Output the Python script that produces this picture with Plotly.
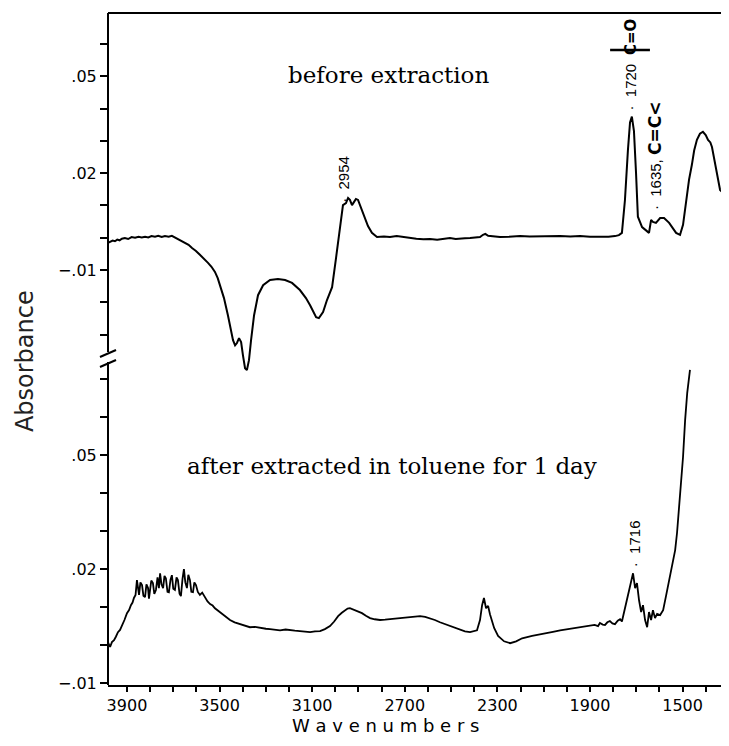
import plotly.graph_objects as go

# ---- data: before extraction (top trace) ----
before_wn = [3982, 3972, 3962, 3952, 3942, 3932, 3922, 3909, 3895, 3880, 3865, 3850, 3836, 3822, 3808,
             3794, 3779, 3765, 3750, 3736, 3720, 3706, 3693, 3680, 3665, 3649, 3634, 3619, 3602, 3585,
             3568, 3550, 3535, 3520, 3508, 3498, 3481, 3464, 3451, 3442, 3433, 3425, 3416, 3407, 3399,
             3390, 3382, 3373, 3364, 3351, 3334, 3312, 3282, 3248, 3217, 3187, 3153, 3127, 3109, 3096,
             3083, 3071, 3053, 3036, 3014, 2997, 2980, 2967, 2954, 2945, 2937, 2928, 2919, 2911, 2902,
             2889, 2872, 2859, 2842, 2820, 2790, 2764, 2735, 2700, 2677, 2650, 2620, 2591, 2560, 2530,
             2505, 2480, 2461, 2440, 2418, 2395, 2375, 2362, 2352, 2340, 2320, 2289, 2250, 2202, 2160,
             2116, 2070, 2029, 1985, 1943, 1900, 1857, 1820, 1792, 1775, 1762, 1749, 1736, 1727, 1719,
             1710, 1701, 1693, 1675, 1645, 1636, 1628, 1615, 1597, 1580, 1558, 1528, 1511, 1498, 1485,
             1472, 1460, 1450, 1438, 1425, 1412, 1400, 1390, 1380, 1373, 1362, 1351, 1338, 1325, 1308]
before_abs = [-0.0016, -0.0012, -0.0009, -0.0011, -0.0006, -0.0008, -0.0003, -0.0001, -0.0004, 0.0002,
              0.0000, 0.0003, 0.0001, 0.0003, 0.0001, 0.0005, 0.0003, 0.0006, 0.0002, 0.0005,
              0.0003, 0.0006, 0.0001, -0.0004, -0.0008, -0.0016, -0.0022, -0.0032, -0.0041, -0.0053,
              -0.0064, -0.0078, -0.0090, -0.0106, -0.0125, -0.0147, -0.0187, -0.0240, -0.0286, -0.0317,
              -0.0333, -0.0326, -0.0311, -0.0323, -0.0364, -0.0404, -0.0410, -0.0379, -0.0317, -0.0240,
              -0.0178, -0.0147, -0.0131, -0.0128, -0.0131, -0.0140, -0.0162, -0.0187, -0.0209, -0.0230,
              -0.0246, -0.0249, -0.0230, -0.0193, -0.0153, -0.0063, 0.0030, 0.0101, 0.0107, 0.0123,
              0.0117, 0.0101, 0.0111, 0.0120, 0.0117, 0.0092, 0.0055, 0.0036, 0.0015, 0.0002,
              0.0004, 0.0002, 0.0005, 0.0001, -0.0001, -0.0003, -0.0005, -0.0004, -0.0006, -0.0004,
              -0.0001, -0.0004, -0.0004, -0.0002, -0.0001, 0.0001, 0.0002, 0.0009, 0.0012, 0.0006,
              0.0004, 0.0002, 0.0003, 0.0005, 0.0004, 0.0005, 0.0004, 0.0005, 0.0004, 0.0005,
              0.0003, 0.0002, 0.0003, 0.0005, 0.0008, 0.0015, 0.0116, 0.0272, 0.0357, 0.0375,
              0.0330, 0.0200, 0.0065, 0.0033, 0.0015, 0.0055, 0.0049, 0.0046, 0.0061, 0.0061,
              0.0046, 0.0015, 0.0009, 0.0040, 0.0110, 0.0180, 0.0225, 0.0270, 0.0303, 0.0322,
              0.0328, 0.0318, 0.0303, 0.0295, 0.0281, 0.0240, 0.0200, 0.0148, 0.0139, 0.0157]

# ---- data: after extraction in toluene (bottom trace) ----
after_wn = [3986, 3973, 3965, 3956, 3948, 3939, 3930, 3922, 3911, 3900, 3891, 3883, 3876, 3870, 3863,
            3857, 3852, 3848, 3842, 3835, 3829, 3822, 3816, 3809, 3805, 3801, 3795, 3788, 3782, 3775,
            3768, 3762, 3757, 3751, 3744, 3738, 3732, 3725, 3719, 3712, 3706, 3700, 3693, 3686, 3680,
            3673, 3667, 3660, 3654, 3648, 3641, 3635, 3628, 3622, 3615, 3609, 3602, 3594, 3585, 3575,
            3563, 3552, 3541, 3530, 3520, 3505, 3490, 3472, 3455, 3435, 3412, 3390, 3369, 3347, 3325,
            3300, 3282, 3260, 3239, 3215, 3196, 3175, 3153, 3130, 3109, 3088, 3066, 3045, 3023, 3005,
            2988, 2972, 2958, 2947, 2937, 2926, 2915, 2900, 2885, 2868, 2850, 2830, 2807, 2785, 2764,
            2742, 2721, 2700, 2677, 2655, 2634, 2612, 2591, 2570, 2548, 2527, 2505, 2483, 2461, 2440,
            2418, 2400, 2388, 2375, 2366, 2358, 2349, 2340, 2332, 2314, 2297, 2271, 2245, 2219, 2193,
            2150, 2094, 2060, 2029, 1995, 1965, 1930, 1900, 1880, 1865, 1857, 1845, 1835, 1825, 1814,
            1803, 1792, 1780, 1770, 1762, 1753, 1736, 1723, 1714, 1705, 1697, 1688, 1679, 1671, 1662,
            1653, 1645, 1636, 1628, 1619, 1610, 1597, 1584, 1571, 1562, 1554, 1545, 1532, 1524, 1511,
            1498, 1489, 1480, 1468]
after_abs = [0.0013, -0.0005, 0.0008, 0.0013, 0.0022, 0.0034, 0.0040, 0.0050, 0.0066, 0.0084,
             0.0092, 0.0105, 0.0112, 0.0124, 0.0132, 0.0171, 0.0140, 0.0132, 0.0165, 0.0158,
             0.0130, 0.0126, 0.0160, 0.0150, 0.0122, 0.0137, 0.0170, 0.0163, 0.0135, 0.0145,
             0.0178, 0.0150, 0.0189, 0.0160, 0.0150, 0.0182, 0.0176, 0.0140, 0.0139, 0.0172,
             0.0184, 0.0148, 0.0145, 0.0178, 0.0171, 0.0135, 0.0129, 0.0175, 0.0200, 0.0165,
             0.0150, 0.0185, 0.0171, 0.0140, 0.0139, 0.0165, 0.0158, 0.0140, 0.0132, 0.0138,
             0.0124, 0.0115, 0.0108, 0.0104, 0.0097, 0.0090, 0.0081, 0.0074, 0.0066, 0.0060,
             0.0055, 0.0050, 0.0047, 0.0048, 0.0045, 0.0043, 0.0042, 0.0040, 0.0039, 0.0041,
             0.0039, 0.0038, 0.0037, 0.0035, 0.0034, 0.0036, 0.0037, 0.0042, 0.0050, 0.0062,
             0.0076, 0.0085, 0.0092, 0.0096, 0.0097, 0.0094, 0.0092, 0.0088, 0.0084, 0.0077,
             0.0071, 0.0068, 0.0066, 0.0067, 0.0068, 0.0070, 0.0071, 0.0072, 0.0074, 0.0075,
             0.0076, 0.0074, 0.0071, 0.0066, 0.0060, 0.0055, 0.0050, 0.0045, 0.0039, 0.0036,
             0.0034, 0.0036, 0.0039, 0.0066, 0.0105, 0.0124, 0.0097, 0.0103, 0.0081, 0.0045,
             0.0024, 0.0010, 0.0005, 0.0010, 0.0018, 0.0024, 0.0032, 0.0035, 0.0039, 0.0042,
             0.0045, 0.0047, 0.0050, 0.0053, 0.0050, 0.0058, 0.0054, 0.0053, 0.0060, 0.0063,
             0.0057, 0.0055, 0.0064, 0.0068, 0.0062, 0.0087, 0.0131, 0.0166, 0.0189, 0.0150,
             0.0163, 0.0118, 0.0087, 0.0105, 0.0066, 0.0047, 0.0087, 0.0066, 0.0092, 0.0071,
             0.0082, 0.0079, 0.0092, 0.0131, 0.0158, 0.0184, 0.0205, 0.0250, 0.0295, 0.0389,
             0.0495, 0.0592, 0.0663, 0.0724]

# ---- tick labels ----
x_tick0 = 3900
x_major_step = 400
x_minor_step = 100
top_tickvals = [-0.03, -0.02, -0.01, 0.0, 0.01, 0.02, 0.03, 0.04, 0.05, 0.06]
top_ticktext = ["", "", "\u2212.01", "", "", ".02", "", "", ".05", ""]
bot_tickvals = [-0.01, 0.0, 0.01, 0.02, 0.03, 0.04, 0.05, 0.06, 0.07]
bot_ticktext = ["\u2212.01", "", "", ".02", "", "", ".05", "", ""]

tickfont = dict(family="DejaVu Sans", size=16, color="black")

fig = go.Figure()
fig.add_trace(go.Scatter(x=before_wn, y=before_abs, mode="lines", xaxis="x", yaxis="y2",
                         line=dict(color="black", width=2), showlegend=False, hoverinfo="skip"))
fig.add_trace(go.Scatter(x=after_wn, y=after_abs, mode="lines", xaxis="x", yaxis="y",
                         line=dict(color="black", width=1.8), showlegend=False, hoverinfo="skip"))

fig.update_layout(
    width=713, height=730,
    margin=dict(l=100, r=0, t=5, b=53),
    paper_bgcolor="white", plot_bgcolor="rgba(0,0,0,0)",
    xaxis=dict(range=[3982, 1334], tick0=x_tick0, dtick=x_major_step, ticks="outside",
               ticklen=5, tickwidth=1.5, tickcolor="black",
               minor=dict(dtick=x_minor_step, tick0=x_tick0, ticks="outside", ticklen=5,
                          tickwidth=1.5, tickcolor="black", showgrid=False),
               showline=True, linewidth=2, linecolor="black", showgrid=False, zeroline=False,
               tickfont=tickfont, anchor="y"),
    yaxis=dict(domain=[0, 0.4807], range=[-0.0105, 0.0745], tickmode="array",
               tickvals=bot_tickvals, ticktext=bot_ticktext, ticks="outside", ticklen=7,
               tickwidth=1.5, tickcolor="black", showline=False, showgrid=False,
               zeroline=False, tickfont=tickfont, anchor="x"),
    yaxis2=dict(domain=[0, 1], range=[-0.13848, 0.06957], tickmode="array",
                tickvals=top_tickvals, ticktext=top_ticktext, ticks="outside", ticklen=7,
                tickwidth=1.5, tickcolor="black", showline=False, showgrid=False,
                zeroline=False, tickfont=tickfont, anchor="x"),
)

line_k = dict(color="black", width=2)
shapes = [
    dict(type="line", xref="paper", yref="paper", x0=0, x1=0, y0=0, y1=0.4807, line=line_k),
    dict(type="line", xref="paper", yref="paper", x0=0, x1=0, y0=0.4955, y1=1, line=line_k),
    dict(type="line", xref="paper", yref="paper", x0=0, x1=1, y0=1, y1=1, line=line_k),
    dict(type="line", xref="paper", yref="paper", x0=-0.0131, x1=0.0131, y0=0.4732, y1=0.4836, line=line_k),
    dict(type="line", xref="paper", yref="paper", x0=-0.0131, x1=0.0131, y0=0.4881, y1=0.4985, line=line_k),
    # side bonds of the carbonyl carbon
    dict(type="line", xref="x", yref="y2", x0=1813, x1=1641, y0=0.0581, y1=0.0581,
         line=dict(color="black", width=2.5)),
]
fig.update_layout(shapes=shapes)

serif = dict(family="DejaVu Serif", size=23, color="black")
peak = dict(family="Liberation Sans", size=15, color="black")
nb = "\u00a0"
annotations = [
    dict(x=2772, y=0.0503, xref="x", yref="y2", text="before extraction", showarrow=False, font=serif),
    dict(x=2755, y=0.0471, xref="x", yref="y", text="after extracted in toluene for 1 day",
         showarrow=False, font=serif),
    dict(x=2963, y=0.0182, xref="x", yref="y2", text="·" + nb * 2 + "2954", textangle=-90,
         showarrow=False, font=peak),
    dict(x=1723, y=0.0468, xref="x", yref="y2", text="·" + nb * 2 + "1720", textangle=-90,
         showarrow=False, font=peak),
    dict(x=1723, y=0.0621, xref="x", yref="y2", text="<b>C=O</b>", textangle=-90,
         showarrow=False, font=dict(family="DejaVu Sans", size=15, color="black")),
    dict(x=1619, y=0.0163, xref="x", yref="y2", text="·" + nb * 2 + "1635,", textangle=-90,
         showarrow=False, font=peak),
    dict(x=1619, y=0.0337, xref="x", yref="y2", text="<b>C=C&lt;</b>", textangle=-90,
         showarrow=False, font=dict(family="DejaVu Sans", size=17, color="black")),
    dict(x=1710, y=0.0268, xref="x", yref="y", text="·" + nb * 2 + "1716", textangle=-90,
         showarrow=False, font=peak),
    dict(x=0.4535, y=-0.061, xref="paper", yref="paper", xanchor="center", yanchor="middle",
         text="W a v e n u m b e r s", showarrow=False,
         font=dict(family="DejaVu Sans", size=18, color="black")),
    dict(x=-0.1354, y=0.482, xref="paper", yref="paper", xanchor="center", yanchor="middle",
         text="Absorbance", textangle=-90, showarrow=False,
         font=dict(family="DejaVu Sans", size=24, color="#222")),
]
fig.update_layout(annotations=annotations)

fig.write_html("out.html")
